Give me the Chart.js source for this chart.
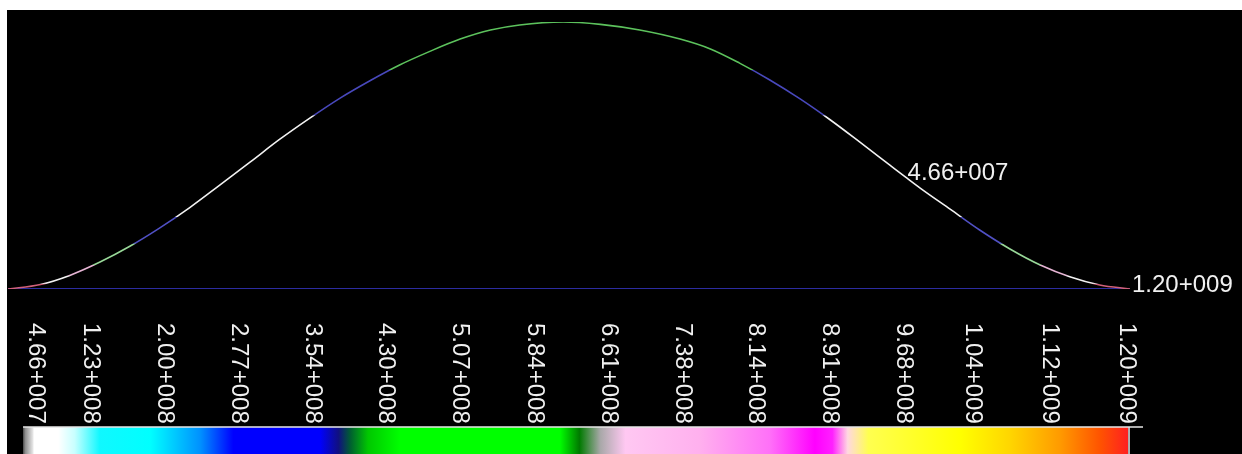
<!DOCTYPE html>
<html>
<head>
<meta charset="utf-8">
<script src="https://cdn.jsdelivr.net/npm/chart.js@4/dist/chart.umd.min.js"></script>
<style>
  html, body { margin: 0; padding: 0; background: #000; }
  canvas { display: block; }
</style>
</head>
<body>
<canvas id="c" width="1242" height="454"></canvas>
<script>
// Profile along the section: position (0..100) and height (0..100)
const positions = [0, 2.9, 5.5, 8.2, 10.9, 13.5, 16.2, 18.9, 21.6, 24.2, 26.9, 29.6, 32.3, 34.9, 37.6, 40.3, 43.0, 45.6, 49.5, 52.8, 56.3, 59.9, 62.6, 65.2, 67.9, 70.6, 73.3, 75.9, 78.6, 80.0, 81.3, 84.0, 86.6, 89.3, 92.0, 94.7, 97.3, 100];
const heights   = [0, 1.7, 5.1, 10.1, 16.1, 22.8, 30.5, 39.0, 47.6, 56.0, 64.0, 71.5, 78.1, 83.9, 89.0, 93.6, 97.0, 98.9, 100, 99.1, 97.0, 93.6, 89.9, 84.6, 78.3, 71.2, 63.3, 55.1, 46.4, 41.9, 37.8, 29.8, 22.1, 15.0, 9.0, 4.5, 1.5, 0];

// Colour-scale values and their printed labels
const scaleValues = [4.66e7, 1.23e8, 2.00e8, 2.77e8, 3.54e8, 4.30e8, 5.07e8, 5.84e8, 6.61e8, 7.38e8, 8.14e8, 8.91e8, 9.68e8, 1.04e9, 1.12e9, 1.20e9];
const scaleLabels = ['4.66+007', '1.23+008', '2.00+008', '2.77+008', '3.54+008', '4.30+008', '5.07+008', '5.84+008', '6.61+008', '7.38+008', '8.14+008', '8.91+008', '9.68+008', '1.04+009', '1.12+009', '1.20+009'];

// Values written next to the profile, at these positions
const noteLabels = ['4.66+007', '1.20+009'];
const noteAt     = [80.0, 100];

// Line colour by height band
const heightBands = [
  [0, 2, '#d0607a'],
  [2, 5, '#f2f2f2'],
  [5, 9, '#e6b4d4'],
  [9, 17, '#98d898'],
  [17, 27, '#5050c4'],
  [27, 65, '#f2f2f2'],
  [65, 82, '#4848bc'],
  [82, 100, '#5cc25c']
];

// Colour bar stops (fraction along the bar, colour)
const barStops = [
  [0.000, '#ffffff'], [0.023, '#ffffff'], [0.038, '#c8ffff'], [0.061, '#10f8ff'],
  [0.107, '#00ffff'], [0.153, '#0090ff'], [0.183, '#0000ff'], [0.262, '#0000ff'],
  [0.279, '#101080'], [0.290, '#006030'], [0.306, '#00c800'], [0.335, '#00ff00'],
  [0.481, '#00ff00'], [0.499, '#007a00'], [0.518, '#a8a8a8'], [0.541, '#ffc8f2'],
  [0.609, '#ffb0ee'], [0.673, '#ff70f8'], [0.714, '#ff00ff'], [0.730, '#ff20ff'],
  [0.744, '#ffd8e0'], [0.763, '#ffff50'], [0.847, '#ffff00'], [0.892, '#ffd600'],
  [0.938, '#ff9a00'], [0.974, '#ff5400'], [1.000, '#ff2020']
];

const FONT = '24px "Liberation Sans", Arial, sans-serif';
const TEXT = '#f0f0f0';

function bandGradient(context) {
  const chart = context.chart;
  const { ctx, chartArea, scales } = chart;
  if (!chartArea) return '#f2f2f2';
  const y0 = scales.y.getPixelForValue(0);
  const y1 = scales.y.getPixelForValue(100);
  const g = ctx.createLinearGradient(0, y0, 0, y1);
  heightBands.forEach(([lo, hi, col]) => {
    g.addColorStop(Math.min(1, lo / 100 + 0.001), col);
    g.addColorStop(Math.max(0, hi / 100 - 0.001), col);
  });
  return g;
}

const decor = {
  id: 'decor',
  beforeDraw(chart) {
    const ctx = chart.ctx;
    ctx.save();
    // white window frame on the top and left, black viewport
    ctx.fillStyle = '#ffffff';
    ctx.fillRect(0, 0, chart.width, chart.height);
    ctx.fillStyle = '#000';
    ctx.fillRect(7, 10, chart.width - 7, chart.height - 10);
    ctx.restore();
  },
  afterDraw(chart) {
    const ctx = chart.ctx;
    const cb = chart.scales.cb;
    const meta = chart.getDatasetMeta(0);
    ctx.save();

    // notes beside the profile
    ctx.font = FONT;
    ctx.fillStyle = TEXT;
    ctx.textAlign = 'left';
    ctx.textBaseline = 'alphabetic';
    noteLabels.forEach((txt, i) => {
      const idx = positions.indexOf(noteAt[i]);
      const pt = meta.data[idx];
      ctx.fillText(txt, pt.x + 2, pt.y + 3);
    });

    // colour bar
    const barLeft = cb.getPixelForValue(scaleValues[0]) + 6;
    const barRight = cb.getPixelForValue(scaleValues[scaleValues.length - 1]) + 1;
    const barTop = 427;
    const barBottom = chart.height;
    const rampLeft = barLeft + 10;

    const edge = ctx.createLinearGradient(barLeft, 0, rampLeft, 0);
    edge.addColorStop(0, '#505050');
    edge.addColorStop(0.25, '#909090');
    edge.addColorStop(1, '#e8e8e8');
    ctx.fillStyle = edge;
    ctx.fillRect(barLeft, barTop, rampLeft - barLeft, barBottom - barTop);

    const ramp = ctx.createLinearGradient(rampLeft, 0, barRight, 0);
    barStops.forEach(([f, c]) => ramp.addColorStop(f, c));
    ctx.fillStyle = ramp;
    ctx.fillRect(rampLeft, barTop, barRight - rampLeft, barBottom - barTop);

    ctx.strokeStyle = '#e6e6e6';
    ctx.lineWidth = 1.5;
    ctx.beginPath();
    ctx.moveTo(barLeft, barTop);
    ctx.lineTo(barRight + 15, barTop);
    ctx.moveTo(barRight + 1, barTop);
    ctx.lineTo(barRight + 1, barBottom);
    ctx.stroke();

    // rotated value labels above the bar
    ctx.fillStyle = TEXT;
    ctx.font = FONT;
    ctx.textAlign = 'left';
    ctx.textBaseline = 'middle';
    scaleValues.forEach((v, i) => {
      const x = Math.max(cb.getPixelForValue(v), barLeft + 13);
      ctx.save();
      ctx.translate(x, 323);
      ctx.rotate(Math.PI / 2);
      ctx.fillText(scaleLabels[i], 0, 0);
      ctx.restore();
    });

    ctx.restore();
  }
};

new Chart(document.getElementById('c'), {
  type: 'line',
  data: {
    datasets: [
      {
        data: positions.map((x, i) => ({ x, y: heights[i] })),
        borderColor: bandGradient,
        borderWidth: 1.6,
        pointRadius: 0,
        cubicInterpolationMode: 'monotone',
        fill: false
      },
      {
        data: [{ x: 0, y: 0 }, { x: 100, y: 0 }],
        borderColor: '#2c2ca0',
        borderWidth: 2,
        pointRadius: 0,
        fill: false
      }
    ]
  },
  options: {
    responsive: false,
    devicePixelRatio: 1,
    animation: false,
    layout: { padding: { left: 8, right: 112, top: 22, bottom: 165 } },
    plugins: { legend: { display: false }, tooltip: { enabled: false } },
    scales: {
      x: { type: 'linear', min: 0, max: 100, display: false },
      y: { type: 'linear', min: 0, max: 100, display: false },
      cb: { type: 'linear', axis: 'x', min: 3.72e7, max: 1.2031e9, display: false }
    }
  },
  plugins: [decor]
});
</script>
</body>
</html>
